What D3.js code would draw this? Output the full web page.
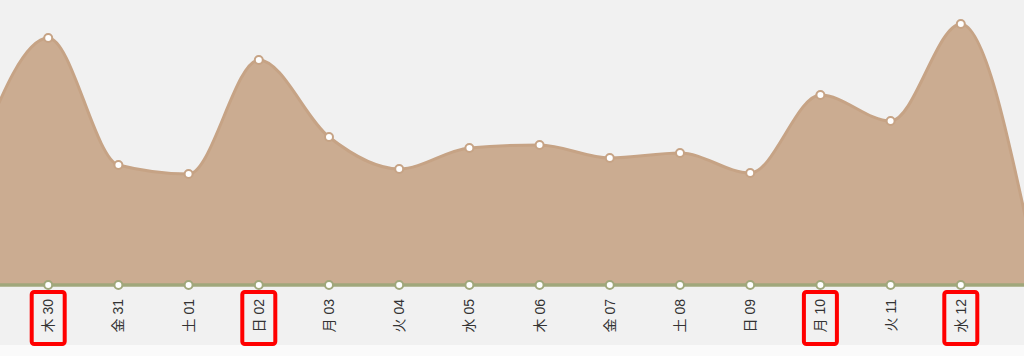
<!DOCTYPE html>
<html>
<head>
<meta charset="utf-8">
<script src="https://cdn.jsdelivr.net/npm/d3@7"></script>
<style>
  body { margin: 0; background: #fafafa; }
  svg { display: block; }
  .lbl { font-family: "Liberation Sans", "Noto Sans CJK JP", sans-serif; font-size: 14px; fill: #333; }
</style>
</head>
<body>
<div id="chart"></div>
<script>
// daily data (first and last day sit just off the visible area)
var dates = ["2015-07-29", "2015-07-30", "2015-07-31", "2015-08-01", "2015-08-02", "2015-08-03", "2015-08-04", "2015-08-05",
             "2015-08-06", "2015-08-07", "2015-08-08", "2015-08-09", "2015-08-10", "2015-08-11", "2015-08-12", "2015-08-13"];
var values = [13.3, 24.7, 12.0, 11.1, 22.5, 14.8, 11.6, 13.7, 14.0, 12.7, 13.2, 11.2, 19.0, 16.4, 26.1, 4.2];
var weekdays = ["日", "月", "火", "水", "木", "金", "土"];
// days marked with a red box
var marked = ["2015-07-30", "2015-08-02", "2015-08-10", "2015-08-12"];

var width = 1024, height = 356;
var baseY = 285;

var parse = d3.timeParse("%Y-%m-%d");
var data = dates.map(function (d, i) {
	return {date: parse(d), key: d, value: values[i]};
});

var svg = d3.select("#chart").append("svg")
	.attr("width", width)
	.attr("height", height);

// background panel
svg.append("rect")
	.attr("x", 0).attr("y", 0)
	.attr("width", width).attr("height", 345)
	.attr("fill", "#f1f1f1");

var x = d3.scaleTime()
	.domain([data[0].date, data[data.length - 1].date])
	.range([-22, 1031]);

var y = d3.scaleLinear()
	.domain([0, 28.5])
	.range([baseY, 0]);

// only days inside the window get a label
var shown = data.filter(function (d) { return x(d.date) > 0 && x(d.date) < width; });

var area = d3.area()
	.curve(d3.curveMonotoneX)
	.x(function (d) { return x(d.date); })
	.y0(baseY)
	.y1(function (d) { return y(d.value); });

var line = d3.line()
	.curve(d3.curveMonotoneX)
	.x(function (d) { return x(d.date); })
	.y(function (d) { return y(d.value); });

svg.append("path")
	.datum(data)
	.attr("d", area)
	.attr("fill", "#cbac91");

svg.append("path")
	.datum(data)
	.attr("d", line)
	.attr("fill", "none")
	.attr("stroke", "#c6a385")
	.attr("stroke-width", 3);

// baseline
svg.append("line")
	.attr("x1", 0).attr("x2", width)
	.attr("y1", baseY).attr("y2", baseY)
	.attr("stroke", "#a0a77b")
	.attr("stroke-width", 3.5);

// value dots
svg.selectAll(".dot")
	.data(data)
	.enter().append("circle")
	.attr("class", "dot")
	.attr("cx", function (d) { return x(d.date); })
	.attr("cy", function (d) { return y(d.value); })
	.attr("r", 4)
	.attr("fill", "#fff")
	.attr("stroke", "#c6a385")
	.attr("stroke-width", 2);

// baseline dots
svg.selectAll(".bdot")
	.data(data)
	.enter().append("circle")
	.attr("class", "bdot")
	.attr("cx", function (d) { return x(d.date); })
	.attr("cy", baseY)
	.attr("r", 4)
	.attr("fill", "#fff")
	.attr("stroke", "#a0a77b")
	.attr("stroke-width", 2);

// red boxes round marked labels
svg.selectAll(".mark")
	.data(shown.filter(function (d) { return marked.indexOf(d.key) >= 0; }))
	.enter().append("rect")
	.attr("class", "mark")
	.attr("x", function (d) { return x(d.date) - 16.5; })
	.attr("y", 292)
	.attr("width", 33)
	.attr("height", 52)
	.attr("rx", 2.5)
	.attr("fill", "none")
	.attr("stroke", "#f00")
	.attr("stroke-width", 4);

// x axis labels, rotated
var fmtDay = d3.timeFormat("%d");
svg.selectAll(".lbl")
	.data(shown)
	.enter().append("text")
	.attr("class", "lbl")
	.attr("text-anchor", "end")
	.attr("dy", "0.35em")
	.attr("transform", function (d) {
		return "translate(" + x(d.date) + ",299) rotate(-90)";
	})
	.text(function (d) { return weekdays[d.date.getDay()] + " " + fmtDay(d.date); });
</script>
</body>
</html>
